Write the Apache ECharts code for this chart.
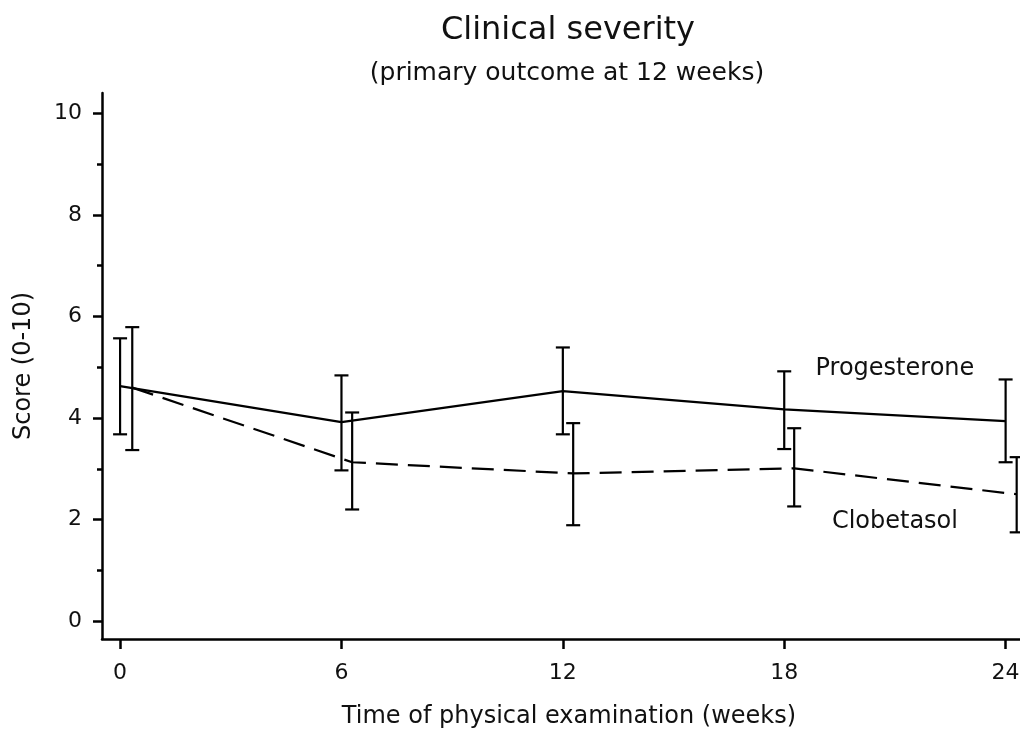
<!DOCTYPE html>
<html>
<head>
<meta charset="utf-8">
<script src="https://cdn.jsdelivr.net/npm/echarts@6/dist/echarts.min.js"></script>
<style>
  html, body { margin: 0; padding: 0; background: #fff; }
  #main { width: 1020px; height: 729px; }
</style>
</head>
<body>
<div id="main"></div>
<script>
// weeks of examination (Clobetasol drawn slightly offset to the right, as in the figure)
const progWeeks = [0, 6, 12, 18, 24];
const progMean = [4.63, 3.92, 4.53, 4.17, 3.94];
const progLow = [3.68, 2.97, 3.68, 3.39, 3.13];
const progHigh = [5.57, 4.84, 5.39, 4.92, 4.76];

const clobWeeks = [0.33, 6.29, 12.28, 18.27, 24.3];
const clobMean = [4.6, 3.13, 2.91, 3.01, 2.5];
const clobLow = [3.37, 2.2, 1.89, 2.26, 1.75];
const clobHigh = [5.79, 4.11, 3.9, 3.8, 3.23];

const xTicks = [0, 6, 12, 18, 24];
const yTicks = [0, 2, 4, 6, 8, 10];
const yMinorTicks = [1, 3, 5, 7, 9];

// series name labels, anchored in data units
const seriesLabels = [[21, 4.98, 'Progesterone'], [21, 1.95, 'Clobetasol']];

const FONT = 'DejaVu Sans';
const INK = '#111';

function zip(xs, a, b) {
    return xs.map((x, i) => b ? [x, a[i], b[i]] : [x, a[i]]);
}

function errorBar(params, api) {
    let x = api.value(0);
    let lo = api.coord([x, api.value(1)]);
    let hi = api.coord([x, api.value(2)]);
    let w = 7;
    let st = {stroke: '#000', lineWidth: 2.2};
    return {
        type: 'group',
        children: [
            {type: 'line', shape: {x1: lo[0], y1: lo[1], x2: hi[0], y2: hi[1]}, style: st},
            {type: 'line', shape: {x1: hi[0] - w, y1: hi[1], x2: hi[0] + w, y2: hi[1]}, style: st},
            {type: 'line', shape: {x1: lo[0] - w, y1: lo[1], x2: lo[0] + w, y2: lo[1]}, style: st}
        ]
    };
}

function nameLabel(params, api) {
    let p = api.coord([api.value(0), api.value(1)]);
    return {
        type: 'text',
        x: p[0],
        y: p[1],
        style: {
            text: seriesLabels[params.dataIndex][2],
            font: '24px "DejaVu Sans"',
            fill: INK,
            align: 'center',
            verticalAlign: 'middle'
        }
    };
}

var chart = echarts.init(document.getElementById('main'));
var option = {
    animation: false,
    backgroundColor: '#fff',
    textStyle: {fontFamily: FONT, color: INK},
    graphic: [
        {type: 'text', x: 568, y: 31, style: {text: 'Clinical severity', font: '32px "DejaVu Sans"', fill: INK, align: 'center', verticalAlign: 'middle'}},
        {type: 'text', x: 567, y: 73, style: {text: '(primary outcome at 12 weeks)', font: '25px "DejaVu Sans"', fill: INK, align: 'center', verticalAlign: 'middle'}}
    ],
    grid: {left: 102, right: 0, top: 93, bottom: 90, containLabel: false, outerBoundsMode: 'none'},
    xAxis: {
        type: 'value',
        min: -0.49,
        max: 24.39,
        axisLine: {onZero: false, lineStyle: {color: '#000', width: 2.5}},
        axisTick: {customValues: xTicks, length: 10, lineStyle: {color: '#000', width: 2.5}},
        axisLabel: {customValues: xTicks, margin: 23, fontSize: 22, fontFamily: FONT, color: INK},
        splitLine: {show: false},
        name: 'Time of physical examination (weeks)',
        nameLocation: 'middle',
        nameGap: 66,
        nameMoveOverlap: false,
        nameTextStyle: {fontSize: 24, fontFamily: FONT, color: INK, padding: [0, 0, 0, 16]}
    },
    yAxis: [{
        type: 'value',
        min: -0.35,
        max: 10.4,
        axisLine: {show: true, onZero: false, lineStyle: {color: '#000', width: 2.5}},
        axisTick: {show: true, customValues: yTicks, length: 9, lineStyle: {color: '#000', width: 2.5}},
        axisLabel: {customValues: yTicks, margin: 20, fontSize: 22, fontFamily: FONT, color: INK},
        splitLine: {show: false},
        name: 'Score (0-10)',
        nameLocation: 'middle',
        nameGap: 66,
        nameMoveOverlap: false,
        nameTextStyle: {fontSize: 24, fontFamily: FONT, color: INK}
    }, {
        type: 'value',
        min: -0.35,
        max: 10.4,
        position: 'left',
        axisLine: {show: false, onZero: false},
        axisTick: {show: true, customValues: yMinorTicks, length: 5, lineStyle: {color: '#000', width: 2.5}},
        axisLabel: {show: false},
        splitLine: {show: false}
    }],
    series: [
        {
            name: 'Progesterone',
            type: 'line',
            data: zip(progWeeks, progMean),
            symbol: 'none',
            lineStyle: {color: '#000', width: 2.2, type: 'solid'}
        },
        {
            name: 'Clobetasol',
            type: 'line',
            data: zip(clobWeeks, clobMean),
            symbol: 'none',
            lineStyle: {color: '#000', width: 2.2, type: [22, 10]}
        },
        {
            type: 'custom',
            renderItem: errorBar,
            data: zip(progWeeks, progLow, progHigh),
            encode: {x: 0, y: [1, 2]},
            clip: false
        },
        {
            type: 'custom',
            renderItem: errorBar,
            data: zip(clobWeeks, clobLow, clobHigh),
            encode: {x: 0, y: [1, 2]},
            clip: false
        },
        {
            type: 'custom',
            renderItem: nameLabel,
            data: seriesLabels.map(d => [d[0], d[1]]),
            encode: {x: 0, y: 1},
            silent: true
        }
    ]
};
chart.setOption(option);
</script>
</body>
</html>
